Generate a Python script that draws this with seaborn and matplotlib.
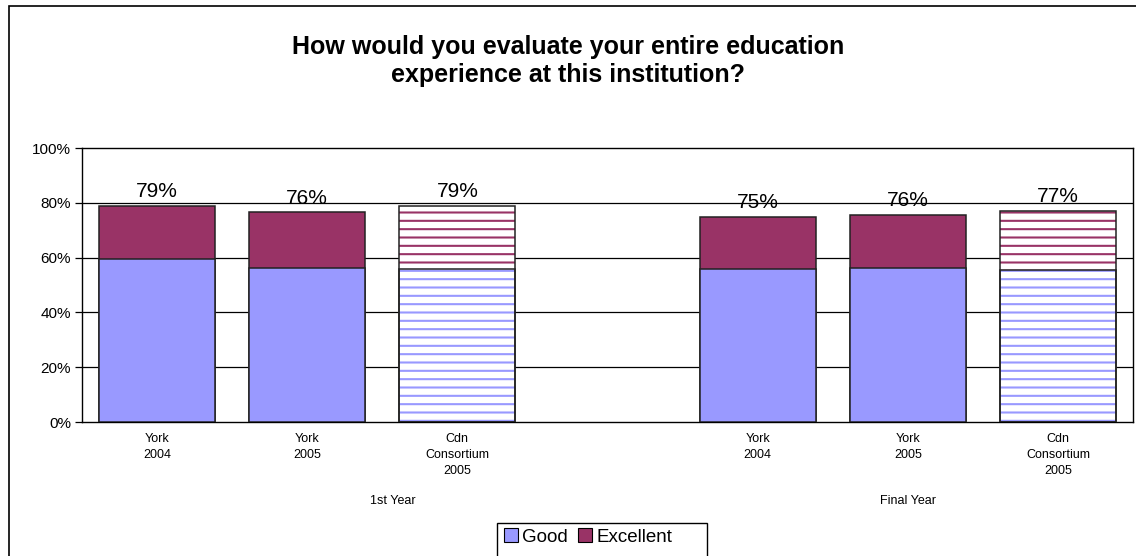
import matplotlib
matplotlib.use("Agg")
import matplotlib.pyplot as plt
import matplotlib.patches as mpatches
from matplotlib.lines import Line2D
import seaborn as sns
import pandas as pd
import numpy as np

# ---- data ----
positions = [0, 1, 2, 4, 5, 6]
tick_labels = ["York\n2004", "York\n2005", "Cdn\nConsortium\n2005",
               "York\n2004", "York\n2005", "Cdn\nConsortium\n2005"]
groups = ["1st Year", "Final Year"]
group_pos = [1.57, 5.0]
good = [59.5, 56.3, 55.8, 55.7, 56.3, 55.6]
excellent = [19.5, 20.2, 23.2, 19.2, 19.4, 21.4]
totals_label = ["79%", "76%", "79%", "75%", "76%", "77%"]
hatched = [False, False, True, False, False, True]

good_color = "#9999FF"
exc_color = "#993366"

sns.set_theme(style="white")
plt.rcParams["font.family"] = ["Liberation Sans", "DejaVu Sans"]
plt.rcParams["hatch.linewidth"] = 1.5
plt.rcParams["text.color"] = "black"
plt.rcParams["xtick.color"] = "black"
plt.rcParams["ytick.color"] = "black"

df = pd.DataFrame({"pos": positions, "good": good,
                   "total": np.array(good) + np.array(excellent)})

fig = plt.figure(figsize=(11.36, 5.56), dpi=100)
ax = fig.add_axes([82/1136, 1 - 422/556, (1133-82)/1136, (422-148)/556])

sns.barplot(data=df, x="pos", y="total", native_scale=True, width=0.773,
            color=exc_color, saturation=1, edgecolor="#222222", linewidth=1.1,
            ax=ax, zorder=3)
sns.barplot(data=df, x="pos", y="good", native_scale=True, width=0.773,
            color=good_color, saturation=1, edgecolor="#222222", linewidth=1.1,
            ax=ax, zorder=3)

patches = ax.patches
n = len(positions)
exc_patches = patches[:n]
good_patches = patches[n:2*n]
for i in range(n):
    if hatched[i]:
        for p, c in ((exc_patches[i], exc_color), (good_patches[i], good_color)):
            p.set_facecolor("white")
            p.set_edgecolor(c)
            p.set_hatch("--")
            p.set_linewidth(0)
            x, y = p.get_xy()
            ax.add_patch(mpatches.Rectangle((x, y), p.get_width(), p.get_height(),
                                            fill=False, edgecolor="#222222",
                                            linewidth=1.1, zorder=4))

for i in range(n):
    top = good[i] + excellent[i]
    ax.annotate(totals_label[i], (positions[i], top), xytext=(0, 3.5),
                textcoords="offset points", ha="center", va="bottom",
                fontsize=15, color="black", zorder=5)

ax.set_xlim(-0.5, 6.5)
ax.set_ylim(0, 100)
ax.set_yticks([0, 20, 40, 60, 80, 100])
ax.set_yticklabels([f"{v}%" for v in [0, 20, 40, 60, 80, 100]], fontsize=11)
for v in [20, 40, 60, 80]:
    ax.axhline(v, color="black", linewidth=0.9, zorder=1)
ax.set_xticks(positions)
ax.set_xticklabels(tick_labels, fontsize=9, linespacing=1.45)
ax.tick_params(axis="x", length=0, pad=8)
ax.tick_params(axis="y", length=5, width=0.9, color="black", direction="out",
               left=True, pad=3)
ax.set_xlabel("")
ax.set_ylabel("")
for s in ax.spines.values():
    s.set_visible(True)
    s.set_color("black")
    s.set_linewidth(1.0)

for g, gp in zip(groups, group_pos):
    ax.text(gp, -0.29, g, transform=ax.get_xaxis_transform(), ha="center",
            va="center", fontsize=9)

fig.text(568/1136, 1 - 61/556, "How would you evaluate your entire education\nexperience at this institution?",
         ha="center", va="center", fontsize=18, fontweight="bold", linespacing=1.17)

handles = [Line2D([], [], marker="s", linestyle="none", markersize=9.5,
                  markerfacecolor=good_color, markeredgecolor="black", markeredgewidth=0.8),
           Line2D([], [], marker="s", linestyle="none", markersize=9.5,
                  markerfacecolor=exc_color, markeredgecolor="black", markeredgewidth=0.8)]
leg = fig.legend(handles, ["Good", "Excellent"], loc="center",
                 bbox_to_anchor=(587/1136, 1 - 537/556), ncol=2, fontsize=13.5,
                 frameon=False, handletextpad=0.1, columnspacing=0.4,
                 borderpad=0.2, handlelength=1.0)

# legend box (Excel style)
fig.patches.append(mpatches.Rectangle((497/1136, -5/556), (707-497)/1136, (556+5-523)/556,
                                      transform=fig.transFigure, fill=False,
                                      edgecolor="black", linewidth=1.0))

# chart-area border (right and bottom edges fall outside the image)
fig.patches.append(mpatches.Rectangle((9/1136, -10/556), 1140/1136, 560/556,
                                      transform=fig.transFigure, fill=False,
                                      edgecolor="black", linewidth=1.2))

fig.savefig("out.png", dpi=100)
